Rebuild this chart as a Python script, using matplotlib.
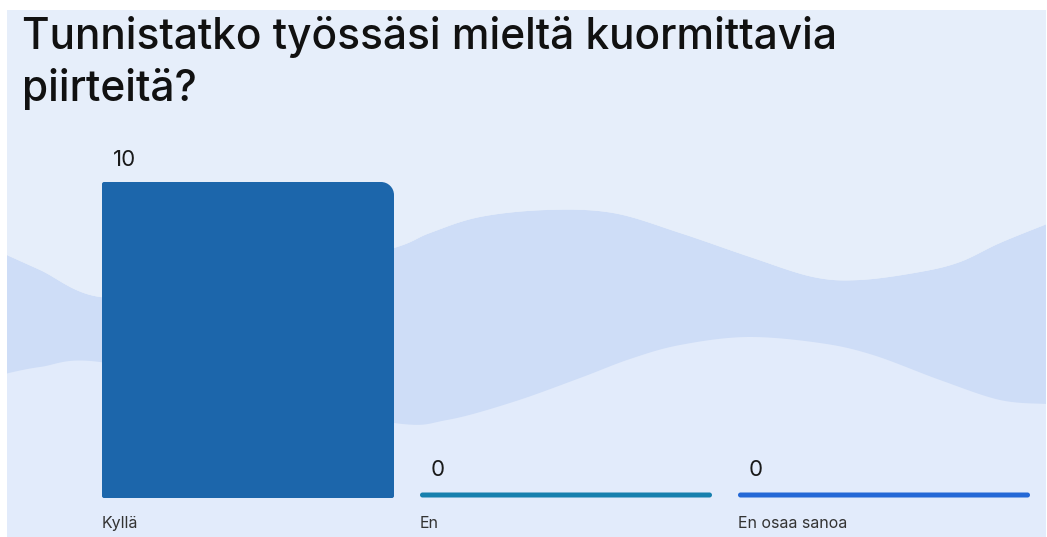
import numpy as np
import matplotlib
matplotlib.use("Agg")
import matplotlib.pyplot as plt
from matplotlib.path import Path
from matplotlib.patches import PathPatch, Rectangle

# ---- data ----
title_lines = ["Tunnistatko työssäsi mieltä kuormittavia", "piirteitä?"]
categories = ["Kyllä", "En", "En osaa sanoa"]
values = [10, 0, 0]
bar_colors = ["#1C66AB", "#1780AE", "#2468D6"]

# decorative background wave (pixel coords)
wave_top_x = [0, 40, 100, 200, 300, 394, 430, 480, 547, 613, 680, 750, 813, 860, 920, 960, 1000, 1047]
wave_top_y = [252, 270, 297, 292, 272, 248, 233, 217, 210, 213, 233, 257, 277, 280, 272, 262, 243, 224]
wave_bot_x = [0, 40, 100, 250, 394, 447, 513, 580, 630, 680, 747, 820, 873, 940, 1000, 1047]
wave_bot_y = [375, 367, 362, 395, 423, 420, 402, 378, 359, 345, 337, 343, 355, 380, 400, 404]

W, H = 1047, 537
fig = plt.figure(figsize=(W / 100, H / 100), dpi=100)
fig.patch.set_facecolor("white")

# background axes in pixel coordinates
bg = fig.add_axes([0, 0, 1, 1], zorder=0)
bg.set_xlim(0, W)
bg.set_ylim(H, 0)
bg.axis("off")
bg.add_patch(Rectangle((7, 10), W - 8, H - 10, facecolor="#E6EEFA", edgecolor="none"))
bg.add_patch(Rectangle((7, 300), W - 8, H - 300, facecolor="#E2EBFB", edgecolor="none"))


def catmull(xs, ys, n=20):
    P = np.column_stack([np.asarray(xs, float), np.asarray(ys, float)])
    P = np.vstack([P[0], P, P[-1]])
    out = []
    for i in range(1, len(P) - 2):
        p0, p1, p2, p3 = P[i - 1], P[i], P[i + 1], P[i + 2]
        t = np.linspace(0, 1, n, endpoint=False)[:, None]
        pts = 0.5 * ((2 * p1) + (-p0 + p2) * t + (2 * p0 - 5 * p1 + 4 * p2 - p3) * t ** 2
                     + (-p0 + 3 * p1 - 3 * p2 + p3) * t ** 3)
        out.append(pts)
    out.append(P[-2][None, :])
    return np.vstack(out)


top = catmull(wave_top_x, wave_top_y)
bot = catmull(wave_bot_x, wave_bot_y)
poly = np.vstack([top, bot[::-1]])
poly[:, 0] = np.clip(poly[:, 0], 7, W - 1)
bg.fill(poly[:, 0], poly[:, 1], color="#CEDDF7", lw=0)
above = np.vstack([[[7, 10]], top, [[W - 1, 10]]])
above[:, 0] = np.clip(above[:, 0], 7, W - 1)
bg.fill(above[:, 0], above[:, 1], color="#E6EEFA", lw=0)

# title (two lines, baselines placed individually)
for line, base in zip(title_lines, [49, 101]):
    fig.text(22 / W, 1 - base / H, line, fontsize=30.5, family="Inter", fontweight="medium",
             color="#111111", va="baseline", ha="left")

# bar axes: centers spaced 318 px, baseline at y=498
px_left, px_right = 89, 1043
px_bottom, px_top = 498, 140
ax = fig.add_axes([px_left / W, 1 - px_bottom / H, (px_right - px_left) / W,
                   (px_bottom - px_top) / H], zorder=1)
ax.patch.set_alpha(0)
ax.axis("off")
ymax = 10 * (px_bottom - px_top) / (498 - 182)
ax.set_xlim(-0.5, 2.5)
ax.set_ylim(0, ymax)
bar_w = 292 / 318
x = np.arange(len(categories))

ppx = (px_right - px_left) / 3.0
ppy = (px_bottom - px_top) / ymax
min_h = 5 / ppy

bars = ax.bar(x, values, width=bar_w, color=bar_colors)


def rounded_path(x0, y0, w, h, r_tl, r_tr, r_br, r_bl):
    def rx(r): return r / ppx
    def ry(r): return r / ppy
    k = 0.5523
    x1, y1 = x0 + w, y0 + h
    verts = [(x0 + rx(r_bl), y0), (x1 - rx(r_br), y0),
             (x1 - rx(r_br) + k * rx(r_br), y0), (x1, y0 + ry(r_br) - k * ry(r_br)), (x1, y0 + ry(r_br)),
             (x1, y1 - ry(r_tr)),
             (x1, y1 - ry(r_tr) + k * ry(r_tr)), (x1 - rx(r_tr) + k * rx(r_tr), y1), (x1 - rx(r_tr), y1),
             (x0 + rx(r_tl), y1),
             (x0 + rx(r_tl) - k * rx(r_tl), y1), (x0, y1 - ry(r_tl) + k * ry(r_tl)), (x0, y1 - ry(r_tl)),
             (x0, y0 + ry(r_bl)),
             (x0, y0 + ry(r_bl) - k * ry(r_bl)), (x0 + rx(r_bl) - k * rx(r_bl), y0), (x0 + rx(r_bl), y0),
             (x0 + rx(r_bl), y0)]
    codes = [Path.MOVETO, Path.LINETO,
             Path.CURVE4, Path.CURVE4, Path.CURVE4,
             Path.LINETO,
             Path.CURVE4, Path.CURVE4, Path.CURVE4,
             Path.LINETO,
             Path.CURVE4, Path.CURVE4, Path.CURVE4,
             Path.LINETO,
             Path.CURVE4, Path.CURVE4, Path.CURVE4,
             Path.CLOSEPOLY]
    return Path(verts, codes)


for i, (rect, v, c) in enumerate(zip(bars, values, bar_colors)):
    rect.set_visible(False)
    x0, w = rect.get_x(), rect.get_width()
    if v > 0:
        p = rounded_path(x0, 0, w, v, 2, 13, 2, 2)
        top_y = v
    else:
        p = rounded_path(x0, 0.5 / ppy, w, min_h, 2.5, 2.5, 2.5, 2.5)
        top_y = 0.5 / ppy + min_h
    ax.add_patch(PathPatch(p, facecolor=c, edgecolor="none"))
    ax.annotate(f"{v}", xy=(x0, top_y), xytext=(8, 9), textcoords="offset points",
                ha="left", va="bottom", fontsize=16, family="Inter", color="#1a1a1a")
    ax.annotate(categories[i], xy=(x0, 0), xytext=(0, -13),
                textcoords="offset points", ha="left", va="top", fontsize=11.5,
                family="Inter", color="#333333")

fig.savefig("out.png", dpi=100, facecolor=fig.get_facecolor())
